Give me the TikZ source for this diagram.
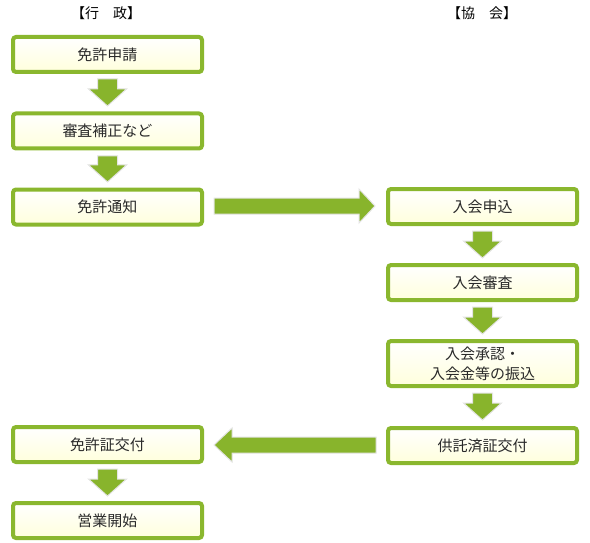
\documentclass[tikz,border=0pt]{standalone}
\usepackage{fontspec}
\setmainfont{Noto Sans CJK JP}
\definecolor{bgreen}{HTML}{8AB72E}
\definecolor{agreen}{HTML}{88B42C}
\definecolor{byellow}{HTML}{FFFFDC}
\definecolor{txt}{HTML}{2A2A2A}
\definecolor{glow}{HTML}{E4E4E4}
\tikzset{
  flowbox/.style={draw=bgreen, line width=4pt, rounded corners=3pt,
    top color=white, bottom color=byellow, minimum width=189pt, minimum height=35pt,
    inner sep=0pt, text=txt, font=\fontsize{15pt}{20pt}\selectfont, align=center},
  hdr/.style={font=\fontsize{14pt}{16pt}\selectfont, text=black},
  fatarrow/.style={fill=agreen, draw=glow, line width=1pt, line join=miter}
}
\begin{document}
\begin{tikzpicture}[x=1pt,y=-1pt]
\useasboundingbox (0,0) rectangle (590,543);
% headers
\node[hdr] (h1) at (106,13) {【行　政】};
\node[hdr] (h2) at (482,13) {【協　会】};
% left boxes
\node[flowbox] (a1) at (107.5,54.5) {免許申請};
\node[flowbox] (a2) at (107.5,131) {審査補正など};
\node[flowbox] (a3) at (107.5,207) {免許通知};
\node[flowbox] (a4) at (107.5,444.5) {免許証交付};
\node[flowbox] (a5) at (107.5,520.5) {営業開始};
% right boxes
\node[flowbox] (b1) at (482.5,206.5) {入会申込};
\node[flowbox] (b2) at (482.5,282.5) {入会審査};
\node[flowbox, minimum height=45pt] (b3) at (482.5,363.5) {入会承認・\\入会金等の振込};
\node[flowbox] (b4) at (482.5,445.5) {供託済証交付};
% down arrows (shaft 20 wide, head 38 wide)
\newcommand{\downarr}[3]{% x, top y, tip y
  \draw[fatarrow] (#1-10,#2) -- (#1+10,#2) -- (#1+10,#3-17) -- (#1+19,#3-17)
    -- (#1,#3) -- (#1-19,#3-17) -- (#1-10,#3-17) -- cycle;}
\downarr{107.5}{79}{106}
\downarr{107.5}{156}{182}
\downarr{107.5}{469}{496}
\downarr{482.5}{231}{258}
\downarr{482.5}{307}{334}
\downarr{482.5}{393}{420}
% right arrow a3 -> b1
\draw[fatarrow] (214,198) -- (359,198) -- (359,189) -- (375,206) -- (359,223)
  -- (359,214) -- (214,214) -- cycle;
% left arrow b4 -> a4
\draw[fatarrow] (376,437) -- (232,437) -- (232,428) -- (214,445) -- (232,462)
  -- (232,453) -- (376,453) -- cycle;
\end{tikzpicture}
\end{document}
